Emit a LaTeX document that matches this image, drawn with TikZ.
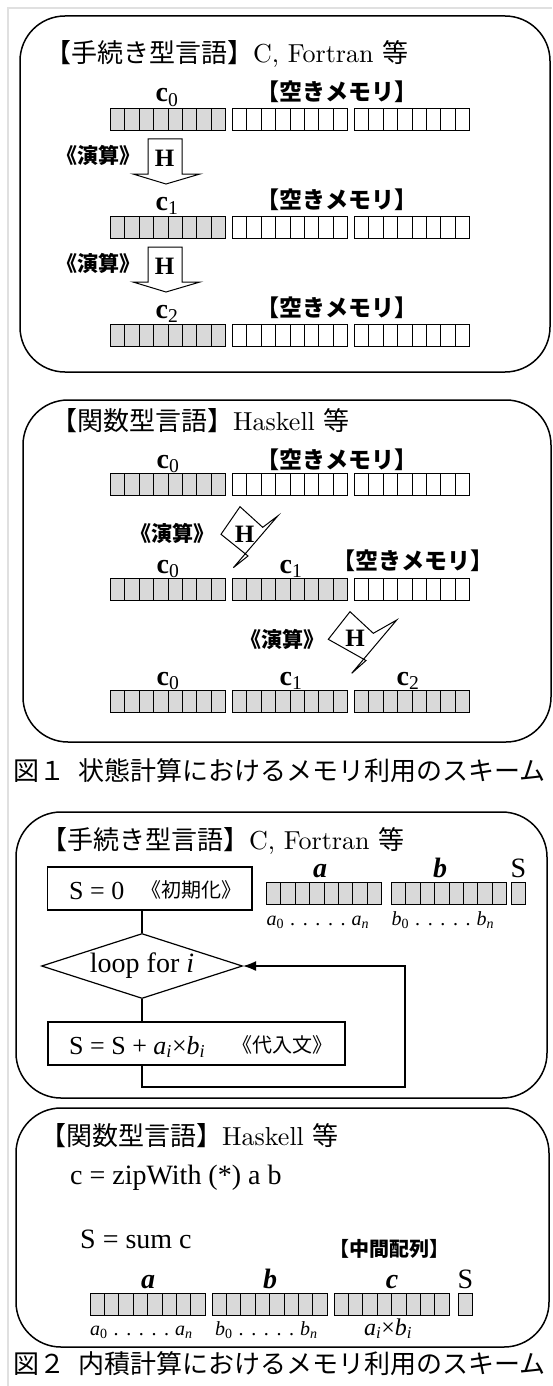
\documentclass[tikz,border=0pt]{standalone}
\usepackage{fontspec}
\setmainfont{Liberation Serif}
\newfontfamily\jp{Noto Sans CJK JP}
\newfontfamily\cent{lmroman10-regular.otf}
\usetikzlibrary{shapes.geometric,arrows.meta}
\newcommand\fs[1]{\fontsize{#1}{#1}\selectfont}
\newcommand\cellrow[4]{\foreach \k in {1,...,#3}{\draw[cellline,fill=#4] ({#1+(\k-1)*14.4},#2) rectangle ++(14.4,22);}}
\newcommand\threerow[4]{\cellrow{110.5}{#1}{8}{#2}\cellrow{232.5}{#1}{8}{#3}\cellrow{354.5}{#1}{8}{#4}}
\newcommand\dotsrow{\hspace{0.3em}.\hspace{0.38em}.\hspace{0.38em}.\hspace{0.38em}.\hspace{0.38em}.\hspace{0.3em}}
\colorlet{cellgray}{black!15}
\tikzset{
  frame/.style={line width=1.5pt, rounded corners=45pt},
  cellline/.style={line width=0.9pt},
  title/.style={anchor=base west, inner sep=0, font=\fs{26}},
  jpb/.style={inner sep=0, font=\fs{23}\jp\bfseries},
  opl/.style={anchor=east, inner sep=0, font=\fs{21}\jp\bfseries},
  hl/.style={inner sep=0, font=\fs{25}\bfseries},
  lbl/.style={anchor=base, inner sep=0, font=\fs{28}},
  sublbl/.style={anchor=base west, inner sep=0, font=\fs{20}},
  blockarrow/.style={draw, fill=white, line width=1pt, line join=miter},
  fbox/.style={draw, line width=1.2pt, rectangle, inner sep=0},
  conn/.style={line width=1.2pt},
  txt/.style={anchor=base west, inner sep=0, font=\fs{28}},
  jpm/.style={anchor=base west, inner sep=0, font=\fs{20}\jp},
  captxt/.style={anchor=base west, inner sep=0, font=\fs{26}\jp}
}
\begin{document}
\begin{tikzpicture}[x=1pt,y=-1pt]
\useasboundingbox (0,0) rectangle (552,1386);
\fill[white] (0,0) rectangle (552,1386);
\draw[black!12, line width=1.2pt] (8,1386) -- (8,8) -- (552,8);

% ===== Box 1 =====
\draw[frame] (20,16) rectangle (550,372);
\node[title] (t1) at (45,63) {\jp【手続き型言語】\cent C, Fortran \jp 等};
\node[lbl] (b1c0) at (167,102) {\textbf{c}\textsubscript{0}};
\node[jpb] (b1m0) at (336.5,92) {【空きメモリ】};
\threerow{108}{cellgray}{white}{white}
\draw[blockarrow] (148,139) -- (182,139) -- (182,174) -- (200,174) -- (166,184) -- (133,174) -- (148,174) -- cycle;
\node[hl] (b1h1) at (164.5,158) {H};
\node[opl] (b1o1) at (141,155) {《演算》};
\node[lbl] (b1c1) at (167,210) {\textbf{c}\textsubscript{1}};
\node[jpb] (b1m1) at (336.5,200) {【空きメモリ】};
\threerow{216}{cellgray}{white}{white}
\draw[blockarrow] (148,247) -- (182,247) -- (182,282) -- (200,282) -- (166,292) -- (133,282) -- (148,282) -- cycle;
\node[hl] (b1h2) at (164.5,266) {H};
\node[opl] (b1o2) at (141,263) {《演算》};
\node[lbl] (b1c2) at (167,318) {\textbf{c}\textsubscript{2}};
\node[jpb] (b1m2) at (336.5,308) {【空きメモリ】};
\threerow{324}{cellgray}{white}{white}

% ===== Box 2 =====
\draw[frame] (23,400) rectangle (551,742);
\node[title] (t2) at (51,430) {\jp【関数型言語】\cent Haskell \jp 等};
\node[lbl] (b2c0) at (168,468) {\textbf{c}\textsubscript{0}};
\node[jpb] (b2m0) at (337,460) {【空きメモリ】};
\threerow{473}{cellgray}{white}{white}
\draw[blockarrow] (221,534.3) -- (240,506.7) -- (262.7,527.3) -- (277.7,516) -- (233.3,567.7) -- (248,556) -- cycle;
\node[hl] (b2h1) at (244.5,534) {H};
\node[opl] (b2o1) at (215,533) {《演算》};
\node[lbl] (b2c0b) at (168,573) {\textbf{c}\textsubscript{0}};
\node[lbl] (b2c1) at (291,573) {\textbf{c}\textsubscript{1}};
\node[jpb] (b2m1) at (413,561) {【空きメモリ】};
\threerow{578}{cellgray}{cellgray}{white}
\draw[blockarrow] (328.3,639.3) -- (350,611.7) -- (373.3,633.3) -- (396.7,620) -- (351.7,673.3) -- (366,660.5) -- cycle;
\node[hl] (b2h2) at (355,638.5) {H};
\node[opl] (b2o2) at (325,639) {《演算》};
\node[lbl] (b2c0c) at (168,685) {\textbf{c}\textsubscript{0}};
\node[lbl] (b2c1b) at (291,685) {\textbf{c}\textsubscript{1}};
\node[lbl] (b2c2) at (408,685) {\textbf{c}\textsubscript{2}};
\threerow{690}{cellgray}{cellgray}{cellgray}

\node[captxt] (cap1) at (13,780) {図１\hspace{0.5em}状態計算におけるメモリ利用のスキーム};

% ===== Box 3 =====
\draw[frame] (16,812) rectangle (547,1098);
\node[title] (t3) at (41,849) {\jp【手続き型言語】\cent C, Fortran \jp 等};
\node[fbox, minimum width=204.5pt, minimum height=43pt] (init) at (149.75,888.5) {};
\node[txt, font=\fs{26}] (initA) at (69,899) {S = 0};
\node[jpm] (initB) at (141,897) {《初期化》};
\node[diamond, draw, line width=1.2pt, inner sep=0, minimum width=201pt, minimum height=65pt, shape aspect=3.1, font=\fs{28}] (loop) at (142,966) {loop for \textit{i}};
\node[fbox, minimum width=297pt, minimum height=43pt] (assign) at (196.5,1043.5) {};
\node[txt, font=\fs{26}] (assignA) at (69,1054) {S = S + \textit{a}\textsubscript{\textit{i}}×\textit{b}\textsubscript{\textit{i}}};
\node[jpm] (assignB) at (232,1052) {《代入文》};
\draw[conn] (init.south -| loop.north) -- (loop.north);
\draw[conn] (loop.south) -- (loop.south |- assign.north);
\coordinate (lpA) at (142,1087);
\coordinate (lpB) at (405,1087);
\draw[conn, -{Latex[length=13pt,width=10pt]}] (assign.south -| loop.south) -- (lpA) -- (lpB) -- (lpB |- loop.east) -- (loop.east);
\node[lbl, font=\fs{28}\bfseries\itshape] (la) at (320,877) {a};
\node[lbl, font=\fs{28}\bfseries\itshape] (lb) at (440,877) {b};
\node[lbl] (lS) at (518.5,877) {S};
\cellrow{266.5}{882}{8}{cellgray}
\cellrow{391.5}{882}{8}{cellgray}
\cellrow{511.5}{882}{1}{cellgray}
\node[sublbl] (sa) at (266.5,925) {\textit{a}\textsubscript{0}\dotsrow\textit{a}\textsubscript{\textit{n}}};
\node[sublbl] (sb) at (391.5,925) {\textit{b}\textsubscript{0}\dotsrow\textit{b}\textsubscript{\textit{n}}};

% ===== Box 4 =====
\draw[frame] (16,1108) rectangle (549,1347);
\node[title] (t4) at (40,1145) {\jp【関数型言語】\cent Haskell \jp 等};
\node[txt] (zw) at (70,1184) {c = zipWith (*) a b};
\node[txt] (sm) at (80,1248) {S = sum c};
\node[jpb, font=\fs{20}\jp\bfseries] (mid) at (389,1249) {【中間配列】};
\node[lbl, font=\fs{28}\bfseries\itshape] (la4) at (148,1288) {a};
\node[lbl, font=\fs{28}\bfseries\itshape] (lb4) at (270,1288) {b};
\node[lbl, font=\fs{28}\bfseries\itshape] (lc4) at (392,1288) {c};
\node[lbl] (lS4) at (465.5,1288) {S};
\cellrow{90}{1293}{8}{cellgray}
\cellrow{212}{1293}{8}{cellgray}
\cellrow{334}{1293}{8}{cellgray}
\cellrow{458}{1293}{1}{cellgray}
\node[sublbl] (sa4) at (90,1335) {\textit{a}\textsubscript{0}\dotsrow\textit{a}\textsubscript{\textit{n}}};
\node[sublbl] (sb4) at (215,1335) {\textit{b}\textsubscript{0}\dotsrow\textit{b}\textsubscript{\textit{n}}};
\node[sublbl, font=\fs{24}] (sc4) at (364,1335) {\textit{a}\textsubscript{\textit{i}}×\textit{b}\textsubscript{\textit{i}}};

\node[captxt] (cap2) at (13,1373) {図２\hspace{0.5em}内積計算におけるメモリ利用のスキーム};
\end{tikzpicture}
\end{document}
